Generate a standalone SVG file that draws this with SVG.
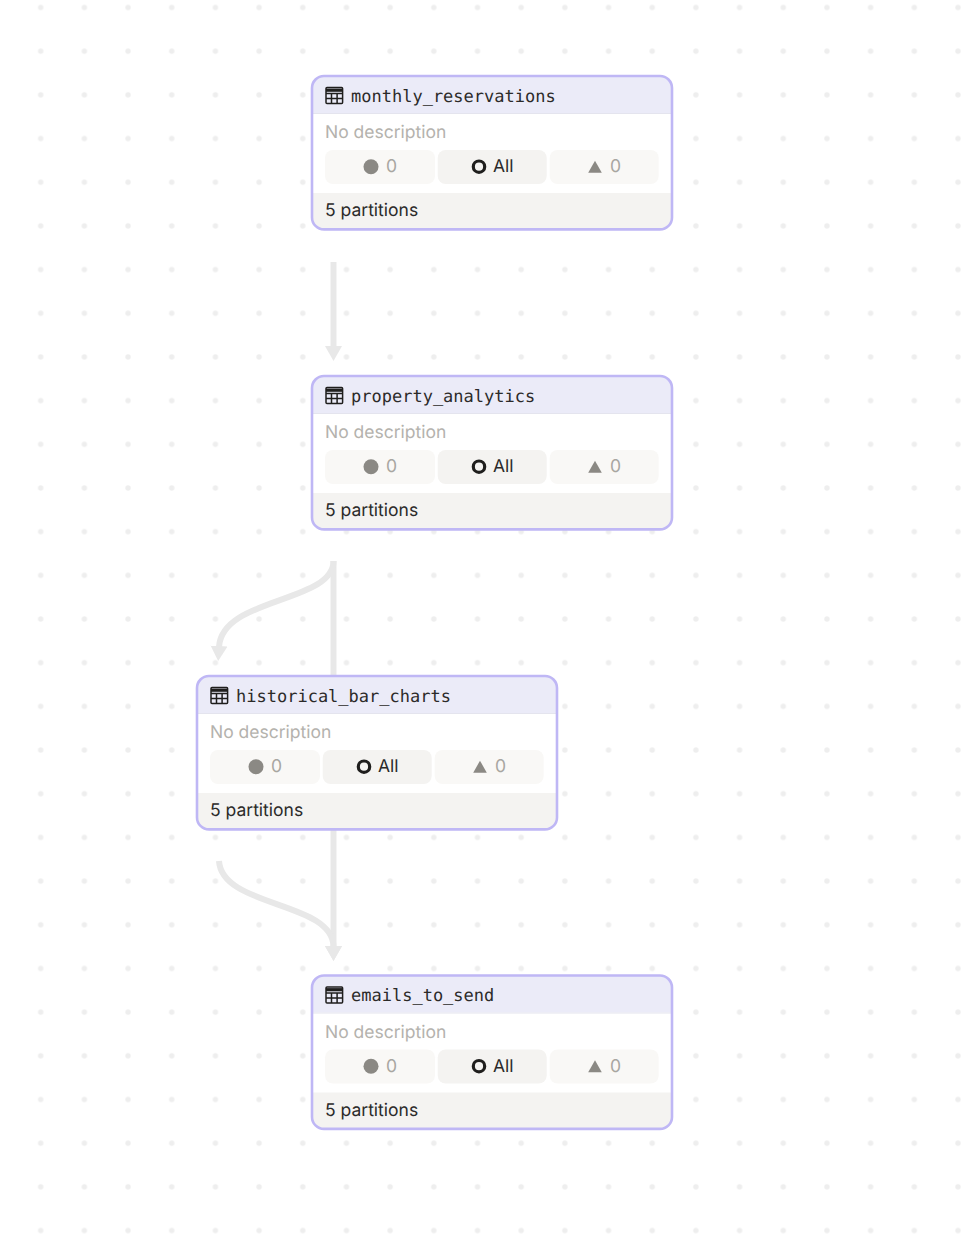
<svg xmlns="http://www.w3.org/2000/svg" width="976" height="1240" viewBox="0 0 976 1240">
<style>
text{text-rendering:geometricPrecision}
.card{fill:#fff}
.border{fill:none;stroke:#bfb7f5;stroke-width:2.6}
.head{fill:#ebebf8}
.sep{stroke:#e4e4ee;stroke-width:1}
.foot{fill:#f4f3f1}
.b0{fill:#f9f8f6}
.b1{fill:#f4f3f1}
.title{font:17px "DejaVu Sans Mono",monospace;fill:#2b2a29}
.desc{font:17.5px Inter,sans-serif;fill:#b4b2ad}
.num{font:17.5px Inter,sans-serif;fill:#a8a6a1}
.all{font:17.5px Inter,sans-serif;fill:#2b2a29}
.part{font:17.5px Inter,sans-serif;fill:#2b2a29}
.icon{fill:#8b8984}
.ring{fill:none;stroke:#1f1e1d;stroke-width:3.2}
.tbl{fill:none;stroke:#1f1e1d;stroke-width:1.5}
.edge{fill:none;stroke:#e8e8e8;stroke-width:6}
</style>
<defs>
<pattern id="dots" patternUnits="userSpaceOnUse" x="18.86" y="-14.34" width="43.68" height="43.68">
<circle cx="21.84" cy="21.84" r="2.7" fill="#eeeeee"/>
</pattern>
<marker id="arrow" markerUnits="userSpaceOnUse" markerWidth="18" markerHeight="18" refX="1" refY="9" orient="auto">
<path d="M0 0.5L15 9L0 17.5Z" fill="#e8e8e8"/>
</marker>
<g id="card">
<rect class="card" x="0" y="0" width="360" height="153.4" rx="12"/>
<path class="head" d="M12 0H348A12 12 0 0 1 360 12V37H0V12A12 12 0 0 1 12 0Z"/>
<line class="sep" x1="0" y1="37.5" x2="360" y2="37.5"/>
<path class="foot" d="M0 117H360V141.4A12 12 0 0 1 348 153.4H12A12 12 0 0 1 0 141.4Z"/>
<rect class="border" x="0" y="0" width="360" height="153.4" rx="12"/>
<g class="tbl">
<rect x="14" y="11.6" width="16.6" height="15.8" rx="1"/>
<path d="M14 17.4H30.6M14 22.4H30.6M19.5 17.4V27.4M25.1 17.4V27.4"/>
<path d="M14 14.2H30.6" stroke-width="3.2"/>
</g>
<rect class="b0" x="13" y="74" width="110" height="34" rx="8"/>
<rect class="b1" x="125.7" y="74" width="109" height="34" rx="8"/>
<rect class="b0" x="237.7" y="74" width="109" height="34" rx="8"/>
<circle class="icon" cx="59" cy="90.7" r="7.5"/>
<circle class="ring" cx="167" cy="90.7" r="5.7"/>
<path class="icon" d="M283 84.7L289.8 96.7H276.2Z"/>
<text class="desc" x="13" y="62">No description</text>
<text class="num" x="74" y="96">0</text>
<text class="all" x="181" y="96">All</text>
<text class="num" x="298" y="96">0</text>
<text class="part" x="13" y="140">5 partitions</text>
</g>
</defs>
<rect id="bg" width="976" height="1240" fill="#fff"/>
<rect id="grid" width="976" height="1240" fill="url(#dots)"/>
<g id="connectors">
<path class="edge" d="M333.5 262V347" marker-end="url(#arrow)"/>
<path class="edge" d="M333.5 561V676"/>
<path class="edge" d="M333.5 561C333.5 603 222 597 219 647" marker-end="url(#arrow)"/>
<path class="edge" d="M333.5 830V947" marker-end="url(#arrow)"/>
<path class="edge" d="M219 861C222 908 333.5 901 333.5 947" marker-end="url(#arrow)"/>
</g>
<g id="monthly_reservations" transform="translate(312 76)"><use href="#card"/><text class="title" x="39" y="26">monthly_reservations</text></g>
<g id="property_analytics" transform="translate(312 376)"><use href="#card"/><text class="title" x="39" y="26">property_analytics</text></g>
<g id="historical_bar_charts" transform="translate(197 676)"><use href="#card"/><text class="title" x="39" y="26">historical_bar_charts</text></g>
<g id="emails_to_send" transform="translate(312 975.5)"><use href="#card"/><text class="title" x="39" y="25.5">emails_to_send</text></g>
</svg>
